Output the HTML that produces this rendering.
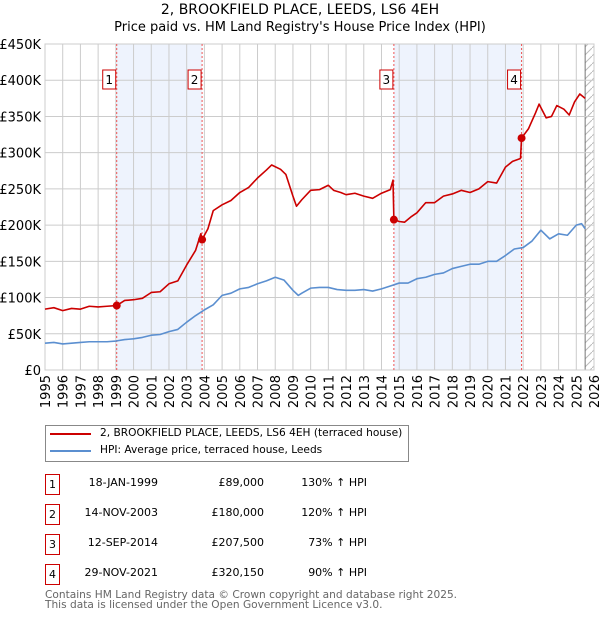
<!DOCTYPE html>
<html><head><meta charset="utf-8"><style>
body{margin:0;background:#fff;font-family:"DejaVu Sans","Liberation Sans",sans-serif;}
#wrap{position:relative;width:600px;height:620px;}
.t{position:absolute;font-size:13px;color:#000;white-space:nowrap}
.box{position:absolute;width:13px;height:19px;border:1px solid #c00;font-size:11px;text-align:center;line-height:19px}
</style></head><body>
<div id="wrap">
<div class="t" style="left:0;width:600px;text-align:center;top:2px;font-size:14px">2, BROOKFIELD PLACE, LEEDS, LS6 4EH</div>
<div class="t" style="left:0;width:600px;text-align:center;top:20px;font-size:13px">Price paid vs. HM Land Registry's House Price Index (HPI)</div>
<svg id="chart" width="600" height="420" style="position:absolute;left:0;top:0"></svg>
<div style="position:absolute;left:45px;top:425px;width:362px;height:35px;border:1px solid #888"></div>
<div style="position:absolute;left:50px;top:433px;width:41px;height:2px;background:#c00"></div>
<div class="t" style="left:100px;top:427px;font-size:10.6px">2, BROOKFIELD PLACE, LEEDS, LS6 4EH (terraced house)</div>
<div style="position:absolute;left:50px;top:450px;width:41px;height:2px;background:#5b8fd0"></div>
<div class="t" style="left:100px;top:444px;font-size:10.6px">HPI: Average price, terraced house, Leeds</div>
<div id="tbl"></div>
<div class="t" style="left:45px;top:590px;font-size:10.6px;color:#666;line-height:10px">Contains HM Land Registry data © Crown copyright and database right 2025.<br>This data is licensed under the Open Government Licence v3.0.</div>
</div>
<script>
const hpiYears=[1995,1995.5,1996,1996.5,1997,1997.5,1998,1998.5,1999,1999.5,2000,2000.5,2001,2001.5,2002,2002.5,2003,2003.5,2004,2004.5,2005,2005.5,2006,2006.5,2007,2007.5,2008,2008.5,2009,2009.3,2009.5,2010,2010.5,2011,2011.5,2012,2012.5,2013,2013.5,2014,2014.5,2015,2015.5,2016,2016.5,2017,2017.5,2018,2018.5,2019,2019.5,2020,2020.5,2021,2021.5,2022,2022.5,2023,2023.5,2024,2024.5,2025,2025.3,2025.5];
const hpiValues=[37,38,36,37,38,39,39,39,40,42,43,45,48,49,53,56,66,75,83,90,103,106,112,114,119,123,128,124,110,103,106,113,114,114,111,110,110,111,109,112,116,120,120,126,128,132,134,140,143,146,146,150,150,158,167,169,178,193,181,188,186,200,202,195];
const redYears=[1995,1995.5,1996,1996.5,1997,1997.5,1998,1998.5,1999.05,1999.5,2000,2000.5,2001,2001.5,2002,2002.5,2003,2003.5,2003.8,2003.87,2004.2,2004.5,2005,2005.5,2006,2006.5,2007,2007.5,2007.8,2008.3,2008.6,2009,2009.2,2009.5,2010,2010.5,2011,2011.3,2011.7,2012,2012.5,2013,2013.5,2014,2014.5,2014.65,2014.7,2015,2015.3,2015.7,2016,2016.5,2017,2017.5,2018,2018.5,2019,2019.5,2020,2020.5,2021,2021.4,2021.85,2021.91,2022.3,2022.7,2022.9,2023.3,2023.6,2023.9,2024.3,2024.6,2024.9,2025.2,2025.5];
const redValues=[84,86,82,85,84,88,87,88,89,96,97,99,107,108,119,123,145,165,188,180,195,220,228,234,245,252,265,276,283,277,270,240,226,235,248,249,255,248,245,242,244,240,237,244,249,262,207.5,205,204,212,217,231,231,240,243,248,245,250,260,258,280,288,292,320.15,333,355,367,348,350,365,360,352,370,381,375];
const saleYears=[1999.05,2003.87,2014.7,2021.91];
const salePrices=[89,180,207.5,320.15];
const saleLabels=["1","2","3","4"];
const saleDates=["18-JAN-1999","14-NOV-2003","12-SEP-2014","29-NOV-2021"];
const salePriceText=["£89,000","£180,000","£207,500","£320,150"];
const saleHpiText=["130% ↑ HPI","120% ↑ HPI","73% ↑ HPI","90% ↑ HPI"];
const yTicks=[0,50,100,150,200,250,300,350,400,450];
const yTickLabels=["£0","£50K","£100K","£150K","£200K","£250K","£300K","£350K","£400K","£450K"];
const xTicks=[1995,1996,1997,1998,1999,2000,2001,2002,2003,2004,2005,2006,2007,2008,2009,2010,2011,2012,2013,2014,2015,2016,2017,2018,2019,2020,2021,2022,2023,2024,2025,2026];

const X0=45,X1=594,Y0=370,Y1=44;
const x=v=>X0+(v-1995)/31*(X1-X0);
const y=v=>Y0-v/450*(Y0-Y1);
const svg=document.getElementById('chart');
const NS='http://www.w3.org/2000/svg';
function mk(t,a){const e=document.createElementNS(NS,t);for(const k in a)e.setAttribute(k,a[k]);svg.appendChild(e);return e;}
for(const [a,b] of [[0,1],[2,3]]){
 const r=mk('rect',{x:x(saleYears[a]),y:Y1,width:x(saleYears[b])-x(saleYears[a]),height:Y0-Y1,fill:'#eef3fd'});
 
 
}
const defs=document.createElementNS(NS,'defs');
defs.innerHTML='<pattern id="h" width="8" height="8" patternUnits="userSpaceOnUse"><path d="M0,8 L8,0" stroke="#bbb" stroke-width="1"/></pattern>';
svg.appendChild(defs);
const hr=mk('rect',{x:x(2025.5),y:Y1,width:X1-x(2025.5),height:Y0-Y1,fill:'url(#h)'});


mk('line',{x1:x(2025.5),x2:x(2025.5),y1:Y1,y2:Y0,stroke:'#777','stroke-width':1});
yTicks.forEach((v,i)=>{
 mk('line',{x1:X0,x2:X1,y1:y(v),y2:y(v),stroke:'#ccc','stroke-width':1});
 const t=mk('text',{x:X0-4,y:y(v)+5,'text-anchor':'end','font-size':13,'font-family':'DejaVu Sans,sans-serif'});
 t.textContent=yTickLabels[i];
 
 
});
xTicks.forEach(v=>{
 mk('line',{x1:x(v),x2:x(v),y1:Y1,y2:Y0,stroke:'#ccc','stroke-width':1});
 const t=mk('text',{x:0,y:0,'text-anchor':'end','font-size':13,'font-family':'DejaVu Sans,sans-serif',transform:`translate(${x(v)+5},${Y0+5}) rotate(-90)`});
 t.textContent=v;
 
 
});
mk('rect',{x:X0,y:Y1,width:X1-X0,height:Y0-Y1,fill:'none',stroke:'#ccc'});
saleYears.forEach((v,i)=>{
 mk('line',{x1:x(v),x2:x(v),y1:Y1,y2:Y0,stroke:'#e55','stroke-width':1,'stroke-dasharray':'2,2'});
 const r=mk('rect',{x:x(v)-14,y:70,width:13,height:19,fill:'#fff',stroke:'#c00'});
 
 
 const t=mk('text',{x:x(v)-7.5,y:84,'text-anchor':'middle','font-size':12,'font-family':'DejaVu Sans,sans-serif'});
 t.textContent=saleLabels[i];
});
function line(xs,vs,c,name){
 const p=mk('polyline',{points:xs.map((a,i)=>x(a)+','+y(vs[i])).join(' '),fill:'none',stroke:c,'stroke-width':1.6,'stroke-linejoin':'round'});
 
 
}
line(hpiYears,hpiValues,'#5b8fd0','hpi-line');
line(redYears,redValues,'#c00','price-paid-line');
saleYears.forEach((v,i)=>{
 const c=mk('circle',{cx:x(v),cy:y(salePrices[i]),r:4,fill:'#c00'});
 
 
});
const tbl=document.getElementById('tbl');
saleLabels.forEach((l,i)=>{
 const top=475+i*30;
 const b=document.createElement('div');b.className='box';b.style.left='45px';b.style.top=(top-1)+'px';b.textContent=l;
 
 
 tbl.appendChild(b);
 const cells=[[saleDates[i],158],[salePriceText[i],264],[saleHpiText[i],367]];
 cells.forEach(([txt,right])=>{
  const d=document.createElement('div');d.className='t';d.style.right=(600-right)+'px';d.style.top=(top+1)+'px';d.style.fontSize='11px';d.textContent=txt;
  
  
  tbl.appendChild(d);
 });
});
</script>
</body></html>
